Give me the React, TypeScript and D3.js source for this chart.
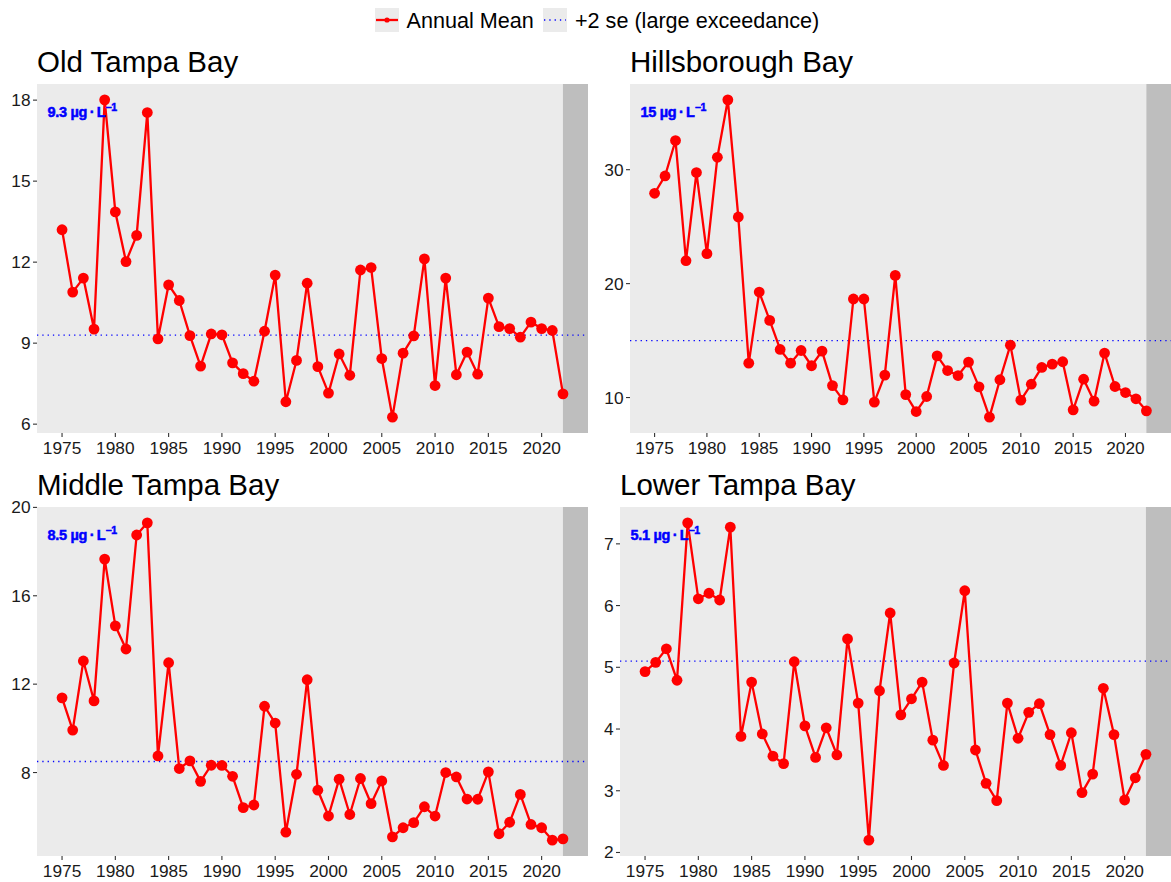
import React from "react";
import * as d3 from "d3";

const years = [1975,1976,1977,1978,1979,1980,1981,1982,1983,1984,1985,1986,1987,1988,1989,1990,1991,1992,1993,1994,1995,1996,1997,1998,1999,2000,2001,2002,2003,2004,2005,2006,2007,2008,2009,2010,2011,2012,2013,2014,2015,2016,2017,2018,2019,2020,2021,2022];

const oldTampa = [13.2,10.89,11.41,9.52,18.01,13.86,12.02,12.99,17.54,9.16,11.16,10.58,9.28,8.15,9.34,9.31,8.27,7.87,7.59,9.44,11.52,6.83,8.36,11.22,8.13,7.15,8.6,7.81,11.71,11.8,8.43,6.26,8.63,9.27,12.12,7.43,11.41,7.83,8.67,7.85,10.67,9.61,9.54,9.22,9.78,9.54,9.47,7.12];
const hillsborough = [27.93,29.45,32.56,22.01,29.75,22.63,31.09,36.13,25.85,13.02,19.26,16.77,14.22,13.02,14.13,12.79,14.08,11.05,9.8,18.65,18.65,9.6,11.97,20.72,10.26,8.77,10.09,13.66,12.37,11.93,13.11,10.94,8.28,11.56,14.6,9.77,11.17,12.64,12.93,13.14,8.92,11.61,9.68,13.9,10.97,10.44,9.89,8.83];
const middleTampa = [11.38,9.92,13.05,11.24,17.66,14.64,13.59,18.75,19.3,8.75,12.97,8.18,8.53,7.6,8.33,8.32,7.83,6.41,6.53,11.0,10.24,5.3,7.92,12.2,7.2,6.03,7.7,6.1,7.73,6.59,7.62,5.09,5.5,5.73,6.45,6.03,8.0,7.8,6.8,6.79,8.03,5.23,5.75,7.01,5.65,5.5,4.94,5.0];
const lowerTampa = [4.93,5.08,5.3,4.79,7.34,6.11,6.2,6.09,7.27,3.88,4.76,3.92,3.56,3.44,5.09,4.05,3.54,4.02,3.58,5.46,4.42,2.2,4.62,5.88,4.23,4.49,4.76,3.82,3.41,5.07,6.24,3.66,3.12,2.84,4.42,3.85,4.27,4.41,3.91,3.41,3.94,2.97,3.27,4.66,3.91,2.85,3.21,3.59];

const panelTitles = ["Old Tampa Bay", "Hillsborough Bay", "Middle Tampa Bay", "Lower Tampa Bay"];
const thresholds = [9.3, 15, 8.5, 5.1];
const thresholdLabels = ["9.3", "15", "8.5", "5.1"];
const xTicks = [1975, 1980, 1985, 1990, 1995, 2000, 2005, 2010, 2015, 2020];
const yTicksList = [[6, 9, 12, 15, 18], [10, 20, 30], [8, 12, 16, 20], [2, 3, 4, 5, 6, 7]];
const seriesList = [oldTampa, hillsborough, middleTampa, lowerTampa];
const legendLabels = ["Annual Mean", "+2 se (large exceedance)"];
const partialYearStart = 2022;

const FONT = "'Liberation Sans', Arial, Helvetica, sans-serif";

const panelBoxes = [
  { x0: 37, x1: 588, y0: 84, y1: 433 },
  { x0: 630, x1: 1171, y0: 84, y1: 433 },
  { x0: 37, x1: 588, y0: 507, y1: 856 },
  { x0: 620, x1: 1171, y0: 507, y1: 856 },
];

function Panel({ idx }: { idx: number }) {
  const b = panelBoxes[idx];
  const vals = seriesList[idx];
  const data = years.map((y, i) => ({ year: y, v: vals[i] }));
  const xe = d3.extent(years) as [number, number];
  const xpad = (xe[1] - xe[0]) * 0.05;
  const x = d3.scaleLinear().domain([xe[0] - xpad, xe[1] + xpad]).range([b.x0, b.x1]);
  const ye = d3.extent(vals) as [number, number];
  const ypad = (ye[1] - ye[0]) * 0.05;
  const y = d3.scaleLinear().domain([ye[0] - ypad, ye[1] + ypad]).range([b.y1, b.y0]);
  const line = d3.line<{ year: number; v: number }>().x((d) => x(d.year)).y((d) => y(d.v));
  const thr = thresholds[idx];
  return (
    <g>
      <text x={b.x0} y={b.y0 - 12} fontSize={29.5} fontFamily={FONT} fill="#000">
        {panelTitles[idx]}
      </text>
      <rect x={b.x0} y={b.y0} width={b.x1 - b.x0} height={b.y1 - b.y0} fill="#EBEBEB" />
      <rect x={x(partialYearStart)} y={b.y0} width={b.x1 - x(partialYearStart)} height={b.y1 - b.y0} fill="#BEBEBE" />
      <line x1={b.x0} x2={b.x1} y1={y(thr)} y2={y(thr)} stroke="#0000FF" strokeWidth={1.3} strokeDasharray="1.3,4" />
      <path d={line(data) || ""} fill="none" stroke="#FF0000" strokeWidth={2.3} strokeLinejoin="round" />
      {data.map((d) => (
        <circle key={d.year} cx={x(d.year)} cy={y(d.v)} r={5.4} fill="#FF0000" />
      ))}
      <text
        x={b.x0 + 10.5}
        y={b.y0 + 33}
        fontSize={14.5}
        fontWeight="bold"
        fontFamily={FONT}
        fill="#0000FF"
        stroke="#0000FF"
        strokeWidth={0.5}
        letterSpacing={-0.3}
      >
        {thresholdLabels[idx] + " \u00B5g\u2009\u00B7\u2009L"}
        <tspan fontSize={10.5} dy={-6}>{"\u22121"}</tspan>
      </text>
      {xTicks.map((t) => (
        <g key={t}>
          <line x1={x(t)} x2={x(t)} y1={b.y1} y2={b.y1 + 4} stroke="#333" strokeWidth={1.1} />
          <text x={x(t)} y={b.y1 + 20.5} fontSize={17.3} textAnchor="middle" fontFamily={FONT} fill="#1A1A1A">
            {t}
          </text>
        </g>
      ))}
      {yTicksList[idx].map((t) => (
        <g key={t}>
          <line x1={b.x0 - 4} x2={b.x0} y1={y(t)} y2={y(t)} stroke="#333" strokeWidth={1.1} />
          <text x={b.x0 - 6.5} y={y(t) + 6} fontSize={17.3} textAnchor="end" fontFamily={FONT} fill="#1A1A1A">
            {t}
          </text>
        </g>
      ))}
    </g>
  );
}

export default function App() {
  return (
    <svg
      width={1171}
      height={882}
      style={{ position: "absolute", left: 0, top: 0, display: "block", background: "#fff" }}
    >
      <rect x={0} y={0} width={1171} height={882} fill="#fff" />
      <g>
        <rect x={375} y={8} width={24} height={24} fill="#EBEBEB" />
        <line x1={376} x2={398} y1={20} y2={20} stroke="#FF0000" strokeWidth={2.3} />
        <circle cx={387} cy={20} r={2.6} fill="#FF0000" />
        <text x={406.5} y={28} fontSize={21.6} fontFamily={FONT} fill="#000">
          {legendLabels[0]}
        </text>
        <rect x={543} y={8} width={24} height={24} fill="#EBEBEB" />
        <line x1={544} x2={566} y1={20} y2={20} stroke="#0000FF" strokeWidth={1.3} strokeDasharray="1.3,4" />
        <text x={575} y={28} fontSize={21.6} fontFamily={FONT} fill="#000">
          {legendLabels[1]}
        </text>
      </g>
      {[0, 1, 2, 3].map((i) => (
        <Panel key={i} idx={i} />
      ))}
    </svg>
  );
}
